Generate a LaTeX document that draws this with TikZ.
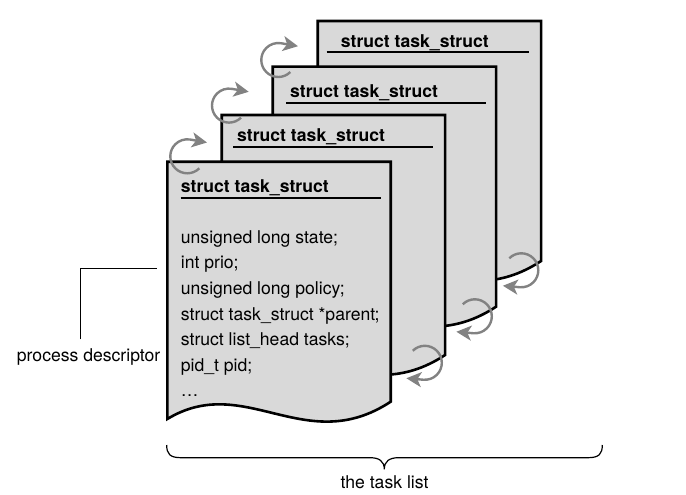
\documentclass[tikz,border=0pt]{standalone}
\usepackage{fontspec}
\setmainfont{TeX Gyre Heros}
\usetikzlibrary{arrows.meta}
\definecolor{boxgray}{RGB}{217,217,217}
\definecolor{arrgray}{RGB}{130,130,130}
\newcommand\taskpage[2]{%
  \draw[boxshape,shift={(#1,#2)}] (0,0) -- (223.4,0) -- (223.4,240)
    .. controls (137.7,296.3) and (77.7,210.3) .. (0,257.3) -- cycle;}
\newcommand\toparrow[2]{%
  \draw[cyc,shift={(#1,#2)}] (45:17) arc[start angle=45,end angle=280,radius=17] -- ++(10:17);}
\newcommand\botarrow[2]{%
  \draw[cyc,shift={(#1,#2)}] (225:17) arc[start angle=225,end angle=455,radius=17] -- ++(185:17);}
\begin{document}
\begin{tikzpicture}[x=1pt,y=-1pt,
  font=\fontsize{17.6}{20}\selectfont,
  boxshape/.style={draw=black, fill=boxgray, line width=2.6pt},
  hdr/.style={anchor=base west, inner sep=0pt, font=\fontsize{17.6}{20}\selectfont\bfseries},
  body/.style={anchor=base west, inner sep=0pt},
  uline/.style={line width=2pt},
  cyc/.style={draw=arrgray, line width=2.4pt, -{Stealth[length=15pt,width=15pt,inset=4pt]}},
  thinline/.style={line width=1.2pt}]
\useasboundingbox (0,0) rectangle (686,495);

% back page (4)
\taskpage{317.7}{21}
\node[hdr] (h4) at (340.7,47.3) {struct task\_struct};
\coordinate (u4a) at (326.7,52.3); \coordinate (u4b) at (529,52.3);
\draw[uline] (u4a) -- (u4b);

% page 3
\taskpage{272.7}{66.7}
\node[hdr] (h3) at (290,97.3) {struct task\_struct};
\coordinate (u3a) at (286,102.7); \coordinate (u3b) at (485.7,102.7);
\draw[uline] (u3a) -- (u3b);

% page 2
\taskpage{221.7}{115}
\node[hdr] (h2) at (237,141.7) {struct task\_struct};
\coordinate (u2a) at (233,146.7); \coordinate (u2b) at (433,146.7);
\draw[uline] (u2a) -- (u2b);

% front page (1)
\taskpage{167.3}{161.7}
\node[hdr] (h1) at (180.7,192.7) {struct task\_struct};
\coordinate (u1a) at (180.7,198.3); \coordinate (u1b) at (380.7,198.3);
\draw[uline] (u1a) -- (u1b);

\node[body] (f1) at (180.7,243.3) {unsigned long state;};
\node[body] (f2) at (180.7,268.9) {int prio;};
\node[body] (f3) at (180.7,294.5) {unsigned long policy;};
\node[body] (f4) at (180.7,320.1) {struct task\_struct *parent;};
\node[body] (f5) at (180.7,345.7) {struct list\_head tasks;};
\node[body] (f6) at (180.7,371.3) {pid\_t pid;};
\node[body] (f7) at (180.7,396.9) {…};

% circular arrows
\toparrow{187.3}{156.3}
\toparrow{229}{105.6}
\toparrow{278.3}{60}
\botarrow{424.8}{362.8}
\botarrow{474.8}{316.3}
\botarrow{521.3}{270.3}

% process descriptor
\node[body] (pd) at (16.7,361) {process descriptor};
\coordinate (pdA) at (80.7,339.3);
\coordinate (pdB) at (156.7,268.3);
\draw[thinline] (pdA) |- (pdB);

% brace
\coordinate (brL) at (166.7,445);
\coordinate (brR) at (602.3,445);
\coordinate (brM) at (384.3,469.3);
\draw[thinline] (brL) .. controls (166.7,454) and (170,457.7) .. (181,457.7)
  -- (370,457.7) .. controls (379,457.7) and (384.3,461) .. (brM)
  .. controls (384.3,461) and (389.6,457.7) .. (398.6,457.7)
  -- (588,457.7) .. controls (599,457.7) and (602.3,454) .. (brR);
\node[anchor=base, inner sep=0pt] (tl) at (384.5,488) {the task list};
\end{tikzpicture}
\end{document}
